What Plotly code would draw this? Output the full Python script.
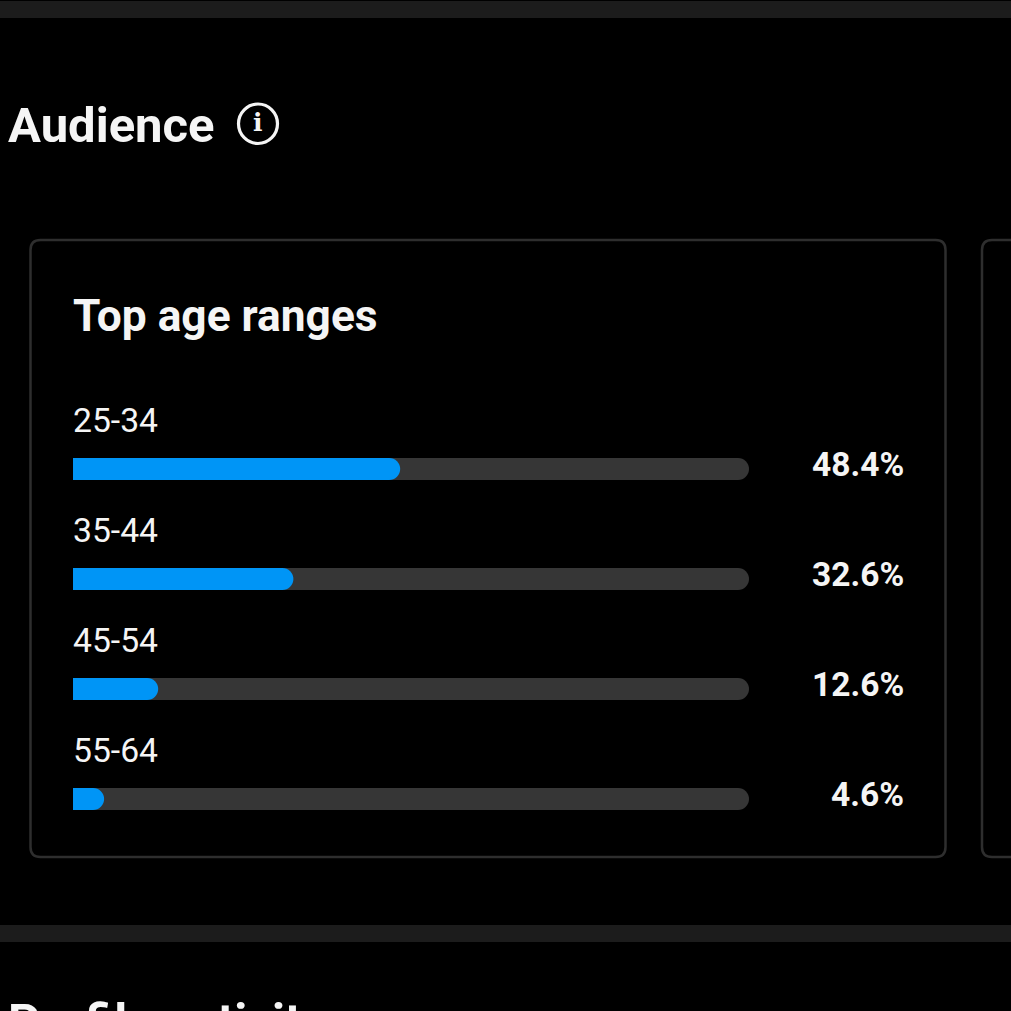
import plotly.graph_objects as go

categories = ["25-34", "35-44", "45-54", "55-64"]
values = [48.4, 32.6, 12.6, 4.6]
value_labels = ["48.4%", "32.6%", "12.6%", "4.6%"]
track_total = [100, 100, 100, 100]

W = H = 1011
BLUE = "#0095f6"
TRACK = "#363636"
BORDER = "#2e2e2e"
BAND = "#1c1c1c"
TEXT = "#f5f5f5"
FONT = "Roboto"


def px(v):
    return v / W


def py(v):
    return 1 - v / H


def rounded(x0, y0, x1, y1, r):
    a, b, c, d = px(x0), py(y0), px(x1), py(y1)
    rx, ry = r / W, r / H
    return (f"M{a + rx},{b} L{c - rx},{b} Q{c},{b} {c},{b - ry} L{c},{d + ry} Q{c},{d} {c - rx},{d} "
            f"L{a + rx},{d} Q{a},{d} {a},{d + ry} L{a},{b - ry} Q{a},{b} {a + rx},{b} Z")


fig = go.Figure()
common = dict(y=categories, orientation="h", width=0.2, hoverinfo="skip", showlegend=False)
fig.add_bar(x=track_total, marker=dict(color=TRACK, cornerradius=11, line_width=0), **common)
# separate overlaying axis so the fill keeps its own rounded tip
fig.add_bar(x=values, xaxis="x2", marker=dict(color=BLUE, cornerradius=11, line_width=0), **common)

shapes = [
    dict(type="rect", xref="paper", yref="paper", x0=0, x1=1, y0=py(1), y1=py(18),
         fillcolor=BAND, line_width=0, layer="below"),
    dict(type="rect", xref="paper", yref="paper", x0=0, x1=1, y0=py(925), y1=py(942),
         fillcolor=BAND, line_width=0, layer="below"),
    dict(type="path", xref="paper", yref="paper", path=rounded(30.5, 240, 945.5, 857, 10),
         line=dict(color=BORDER, width=2.5), layer="below"),
    dict(type="path", xref="paper", yref="paper", path=rounded(982, 240, 1100, 857, 10),
         line=dict(color=BORDER, width=2.5), layer="below"),
    dict(type="circle", xref="paper", yref="paper", x0=px(238.5), x1=px(277.5), y0=py(104), y1=py(143.5),
         line=dict(color=TEXT, width=3.2), layer="above"),
]


def paper_text(text, x, y, size, bold=True, family=FONT):
    return dict(text=text, xref="paper", yref="paper", x=px(x), y=py(y), xanchor="left", yanchor="middle",
                showarrow=False, font=dict(family=family, size=size, color=TEXT, weight=700 if bold else 400))


annotations = [
    paper_text("Audience", 6, 126, 49),
    paper_text("Top age ranges", 70.5, 315.5, 44.3),
    paper_text("Profile activity", 6, 1021, 49),
    paper_text("i", 251, 123, 25, family="DejaVu Serif"),
]
for cat, label in zip(categories, value_labels):
    annotations.append(dict(text=cat, x=0, y=cat, xref="x", yref="y", xanchor="left", yanchor="middle",
                            xshift=-2, yshift=48.5, showarrow=False, font=dict(family=FONT, size=33.7, color=TEXT)))
    annotations.append(dict(text=label, x=100, y=cat, xref="x", yref="y", xanchor="right", yanchor="middle",
                            xshift=156.5, yshift=4.5, showarrow=False,
                            font=dict(family=FONT, size=33.5, color=TEXT, weight=700)))

fig.update_layout(
    width=W, height=H, margin=dict(l=0, r=0, t=0, b=0), autosize=False,
    paper_bgcolor="#000000", plot_bgcolor="#000000", barmode="overlay",
    shapes=shapes, annotations=annotations,
    xaxis=dict(range=[0, 100], domain=[px(73), px(749)], visible=False, fixedrange=True),
    xaxis2=dict(range=[0, 100], overlaying="x", visible=False, fixedrange=True),
    yaxis=dict(type="category", categoryorder="array", categoryarray=categories, range=[3.5, -0.5],
               domain=[py(854), py(414)], visible=False, fixedrange=True),
)
fig.write_html("out.html", config={"displayModeBar": False},
               post_script="document.body.style.margin='0';document.body.style.background='#000';")
